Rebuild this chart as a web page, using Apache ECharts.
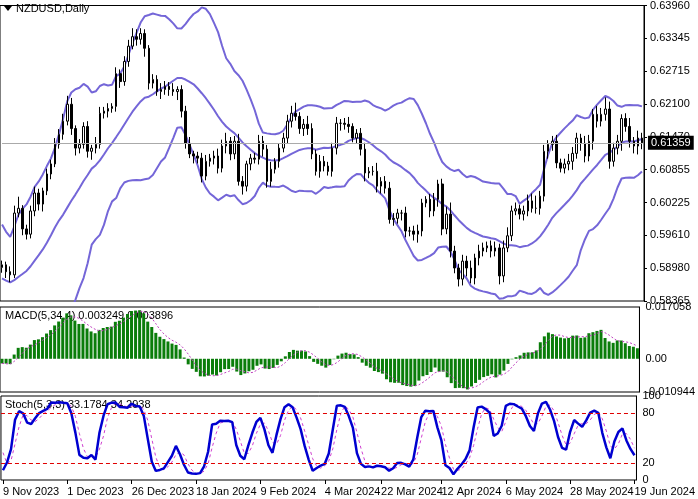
<!DOCTYPE html>
<html>
<head>
<meta charset="utf-8">
<script src="https://cdn.jsdelivr.net/npm/echarts@6/dist/echarts.min.js"></script>
<style>
html, body { margin: 0; padding: 0; background: #fff; }
#chart { width: 698px; height: 499px; }
</style>
</head>
<body>
<div id="chart"></div>
<script>
// daily closes, 9 Nov 2023 .. 19 Jun 2024
var closes = [
	0.5905,0.5892,0.5886,0.6003,0.6012,0.5973,0.5963,0.6007,0.6041,0.6020,
	0.6045,0.6077,0.6096,0.6133,0.6152,0.6177,0.6209,0.6163,0.6126,0.6133,
	0.6167,0.6120,0.6126,0.6133,0.6192,0.6196,0.6201,0.6205,0.6267,0.6252,
	0.6290,0.6319,0.6337,0.6332,0.6343,0.6315,0.6249,0.6256,0.6233,0.6237,
	0.6243,0.6237,0.6233,0.6237,
	0.6196,0.6135,0.6115,0.6111,0.6107,0.6073,0.6101,0.6107,0.6111,0.6088,
	0.6130,0.6139,0.6115,0.6139,0.6063,0.6054,0.6096,0.6107,0.6105,0.6139,
	0.6124,0.6063,0.6086,0.6101,0.6126,0.6145,0.6177,0.6192,0.6186,0.6163,
	0.6171,0.6163,0.6115,0.6082,0.6101,0.6092,0.6082,0.6126,0.6173,0.6173,
	0.6171,0.6167,0.6145,0.6154,0.6124,0.6079,0.6082,0.6082,0.6054,0.6063,
	0.6050,0.5991,0.5993,0.6003,0.6003,
	0.5969,0.5969,0.5963,0.5969,0.6022,0.6029,0.6007,0.6029,0.6058,0.5973,
	0.6001,0.5931,0.5899,0.5878,0.5912,0.5899,0.5880,0.5918,0.5931,0.5937,
	0.5941,0.5931,0.5937,0.5884,0.5937,0.5960,0.6007,0.6011,0.6001,0.6007,
	0.6026,0.6012,0.6012,0.6035,0.6120,0.6133,0.6139,0.6098,0.6088,0.6096,
	0.6101,0.6116,0.6145,0.6135,0.6111,
	0.6139,0.6190,0.6177,0.6190,0.6200,0.6101,0.6126,0.6139,0.6182,0.6167,
	0.6139,0.6130,0.6145,0.61359
];
var firstOpen = 0.5900;
// wick above / below body, in pips
var upWick = [
	8,6,10,14,22,6,8,10,12,8, 6,10,8,12,10,14,16,12,6,10,
	8,10,6,14,12,8,10,6,12,8, 10,12,16,14,10,8,6,10,8,12,
	10,8,12,6, 8,10,12,6,8,10, 12,8,10,14,12,16,8,10,14,10,
	6,8,10,12,10,8,14,6,8,10, 12,14,20,8,10,16,10,8,12,10,
	8,10,12,8,10,14,6,8,10,12, 8,10,16,8,10,12,10,8,6,12,
	8,10,12,8,6,10,12,8,10,14, 22,10,8,12,10,14,8,12,10,8,
	10,12,8,14,16,10,12,8,10,12, 14,24,10,12,8,10,12,8,10,14,
	12,10,8,14,12,10,16,12,22,14, 10,12,8,10,16,8,14,10
];
var dnWick = [
	10,12,14,6,8,12,10,8,10,12, 14,8,10,6,8,10,8,12,14,10,
	8,12,16,10,8,10,12,8,10,12, 8,10,6,12,10,16,12,10,8,14,
	10,12,8,16, 12,10,8,14,10,12, 8,10,12,10,8,14,12,10,8,16,
	10,12,8,10,14,12,10,8,12,8, 10,12,8,10,14,12,10,8,12,10,
	8,10,12,14,10,12,8,10,12,16, 10,8,12,14,10,8,12,10,14,12,
	10,12,16,10,8,12,10,14,12,10, 12,10,14,12,16,10,12,14,10,8,
	12,10,16,12,8,10,8,10,12,10, 8,10,12,10,14,12,10,8,10,12,
	16,10,14,12,10,16,12,10,12,14, 10,12,18,10,12,14,16,12
];
// closes before the first visible bar (indicator warm-up only)
var warmCloses = [0.5985,0.5975,0.5950,0.5920,0.5895,0.5860,0.5845,0.5830,0.5825,0.5815,
	0.5830,0.5820,0.5815,0.5830,0.5890,0.5960,0.5945,0.5905,0.5890,0.5880];
var priceTicks = ['0.58365','0.58980','0.59610','0.60225','0.60855','0.61470','0.62100','0.62715','0.63345','0.63960'];
var dateLabels = ['9 Nov 2023','1 Dec 2023','26 Dec 2023','18 Jan 2024','9 Feb 2024','4 Mar 2024',
	'22 Mar 2024','12 Apr 2024','6 May 2024','28 May 2024','19 Jun 2024'];
var holidays = ['2023-12-25', '2024-01-01'];

var MON = ['Jan','Feb','Mar','Apr','May','Jun','Jul','Aug','Sep','Oct','Nov','Dec'];
var dates = [];
var d = new Date(Date.UTC(2023, 10, 9));
while (dates.length < closes.length) {
	var wd = d.getUTCDay();
	var iso = d.toISOString().slice(0, 10);
	if (wd != 0 && wd != 6 && holidays.indexOf(iso) < 0) {
		dates.push(d.getUTCDate() + ' ' + MON[d.getUTCMonth()] + ' ' + d.getUTCFullYear());
	}
	d = new Date(d.getTime() + 86400000);
}

var n = closes.length;
var opens = [], highs = [], lows = [], candles = [];
for (var i = 0; i < n; i++) {
	var o = i == 0 ? firstOpen : closes[i - 1];
	var c = closes[i];
	var h = Math.max(o, c) + upWick[i] * 0.0001;
	var l = Math.min(o, c) - dnWick[i] * 0.0001;
	opens.push(o); highs.push(h); lows.push(l);
	candles.push([o, c, l, h]);
}

// Bollinger(20,2)
var all = warmCloses.concat(closes);
var w = warmCloses.length;
var bbUp = [], bbMid = [], bbLo = [];
for (var i = 0; i < n; i++) {
	var seg = all.slice(i + w - 19, i + w + 1);
	var m = seg.reduce(function(a, b) { return a + b; }, 0) / seg.length;
	var v = seg.reduce(function(a, b) { return a + (b - m) * (b - m); }, 0) / seg.length;
	var sd = Math.sqrt(v);
	bbMid.push(m); bbUp.push(m + 2 * sd); bbLo.push(m - 2 * sd);
}

// MACD(5,34,4)
function ema(arr, p) {
	var k = 2 / (p + 1), out = [arr[0]];
	for (var i = 1; i < arr.length; i++) out.push(arr[i] * k + out[i - 1] * (1 - k));
	return out;
}
var e5 = ema(all, 5), e34 = ema(all, 34);
var macdAll = e5.map(function(v, i) { return v - e34[i]; });
var macd = [], macdSig = [];
for (var i = 0; i < n; i++) {
	var j = i + w;
	macd.push(macdAll[j]);
	macdSig.push((macdAll[j] + macdAll[j - 1] + macdAll[j - 2] + macdAll[j - 3]) / 4);
}

// Stochastic(5,3,3); warm-up closes stand in for high/low before the first bar
var hiAll = warmCloses.concat(highs), loAll = warmCloses.concat(lows);
var raw = [];
for (var j = 4; j < all.length; j++) {
	var H = Math.max.apply(null, hiAll.slice(j - 4, j + 1));
	var L = Math.min.apply(null, loAll.slice(j - 4, j + 1));
	raw[j] = [all[j] - L, H - L];
}
var kAll = [];
for (var j = 6; j < all.length; j++) {
	var a = raw[j][0] + raw[j - 1][0] + raw[j - 2][0];
	var b = raw[j][1] + raw[j - 1][1] + raw[j - 2][1];
	kAll[j] = 100 * a / b;
}
var stK = [], stD = [];
for (var i = 0; i < n; i++) {
	var j = i + w;
	stK.push(kAll[j]);
	stD.push((kAll[j] + kAll[j - 1] + kAll[j - 2]) / 3);
}

var pMin = 0.58365, pMax = 0.63960, pInt = (pMax - pMin) / 9;
var lastPrice = closes[n - 1];
var font = 'Liberation Sans';
var bandStyle = { color: '#7466d8', width: 2 };

function xAx(gi, showLabels) {
	return {
		type: 'category', gridIndex: gi, data: dates, boundaryGap: true,
		axisLine: { show: false },
		axisTick: { show: showLabels, length: 4, inside: false, lineStyle: { color: '#000' },
			interval: function(idx, val) { return dateLabels.indexOf(val) >= 0; }, alignWithLabel: true },
		axisLabel: { show: showLabels, interval: function(idx, val) { return dateLabels.indexOf(val) >= 0; },
			color: '#000', fontFamily: font, fontSize: 11, align: 'left', margin: 6 },
		splitLine: { show: false }
	};
}

var chart = echarts.init(document.getElementById('chart'));
chart.setOption({
	animation: false,
	backgroundColor: '#fff',
	textStyle: { fontFamily: font },
	grid: [
		{ left: 0, width: 644, top: 3, height: 298, show: true, borderColor: '#000', borderWidth: 1 },
		{ left: 0, width: 644, top: 307, height: 85, show: true, borderColor: '#000', borderWidth: 1 },
		{ left: 0, width: 644, top: 396, height: 84, show: true, borderColor: '#000', borderWidth: 1 }
	],
	xAxis: [xAx(0, false), xAx(1, false), xAx(2, true)],
	yAxis: [
		{ type: 'value', gridIndex: 0, position: 'right', min: pMin, max: pMax, interval: pInt,
			axisLine: { show: true, lineStyle: { color: '#000' } },
			axisTick: { show: true, length: 3, lineStyle: { color: '#000' } },
			splitLine: { show: false },
			axisLabel: { color: '#000', fontSize: 11, margin: 6, fontFamily: font,
				formatter: function(v) { return priceTicks[Math.round((v - pMin) / pInt)]; } } },
		{ type: 'value', gridIndex: 1, position: 'right', min: -0.010944, max: 0.017058, interval: 0.010944,
			axisLine: { show: true, lineStyle: { color: '#000' } },
			axisTick: { show: false }, splitLine: { show: false },
			axisLabel: { color: '#000', fontSize: 11, margin: 6, fontFamily: font, showMaxLabel: true,
				formatter: function(v) {
					if (Math.abs(v) < 1e-9) return '0.00';
					if (v < 0) return '-0.010944';
					if (v > 0.016) return '0.017058';
					return '';
				} } },
		{ type: 'value', gridIndex: 2, position: 'right', min: 0, max: 100, interval: 20,
			axisLine: { show: true, lineStyle: { color: '#000' } },
			axisTick: { show: false }, splitLine: { show: false },
			axisLabel: { color: '#000', fontSize: 11, margin: 6, fontFamily: font,
				formatter: function(v) { return (v == 0 || v == 20 || v == 80 || v == 100) ? String(v) : ''; } } }
	],
	series: [
		{ type: 'candlestick', xAxisIndex: 0, yAxisIndex: 0, data: candles, barMaxWidth: 3, z: 3,
			itemStyle: { color: '#fff', color0: '#000', borderColor: '#000', borderColor0: '#000', borderWidth: 1 } },
		{ type: 'line', xAxisIndex: 0, yAxisIndex: 0, data: bbUp, symbol: 'none', lineStyle: bandStyle, z: 2 },
		{ type: 'line', xAxisIndex: 0, yAxisIndex: 0, data: bbMid, symbol: 'none', lineStyle: bandStyle, z: 2,
			markLine: { silent: true, symbol: 'none',
				data: [[{ coord: [dates[0], lastPrice] }, { coord: [dates[n - 1], lastPrice] }]],
				lineStyle: { color: '#aaa', width: 1, type: 'solid' },
				label: { position: 'end', distance: 6, formatter: '0.61359', color: '#fff', backgroundColor: '#000',
					padding: [2, 3, 1, 3], fontSize: 11, fontFamily: font } } },
		{ type: 'line', xAxisIndex: 0, yAxisIndex: 0, data: bbLo, symbol: 'none', lineStyle: bandStyle, z: 2 },
		{ type: 'bar', xAxisIndex: 1, yAxisIndex: 1, data: macd, barWidth: 3, itemStyle: { color: '#0a7d0a' } },
		{ type: 'line', xAxisIndex: 1, yAxisIndex: 1, data: macdSig, symbol: 'none',
			lineStyle: { color: '#c040c0', width: 1, type: [2, 2] } },
		{ type: 'line', xAxisIndex: 2, yAxisIndex: 2, data: stD, symbol: 'none',
			lineStyle: { color: '#d040d0', width: 1, type: [3, 3] } },
		{ type: 'line', xAxisIndex: 2, yAxisIndex: 2, data: stK, symbol: 'none',
			lineStyle: { color: '#0000d0', width: 2.5 },
			markLine: { silent: true, symbol: 'none', label: { show: false },
				data: [{ yAxis: 80 }, { yAxis: 20 }],
				lineStyle: { color: '#e00000', width: 1, type: [4, 3] } } }
	],
	graphic: [
		{ type: 'polygon', shape: { points: [[4, 6], [12, 6], [8, 11]] }, style: { fill: '#000' } },
		{ type: 'text', left: 16, top: 3, style: { text: 'NZDUSD,Daily', fill: '#000', font: '11px ' + font } },
		{ type: 'text', left: 5, top: 310, style: { text: 'MACD(5,34,4) 0.003249 0.003896', fill: '#000', font: '11px ' + font } },
		{ type: 'text', left: 5, top: 399, style: { text: 'Stoch(5,3,3) 33.1784 34.2938', fill: '#000', font: '11px ' + font } }
	]
});
</script>
</body>
</html>
